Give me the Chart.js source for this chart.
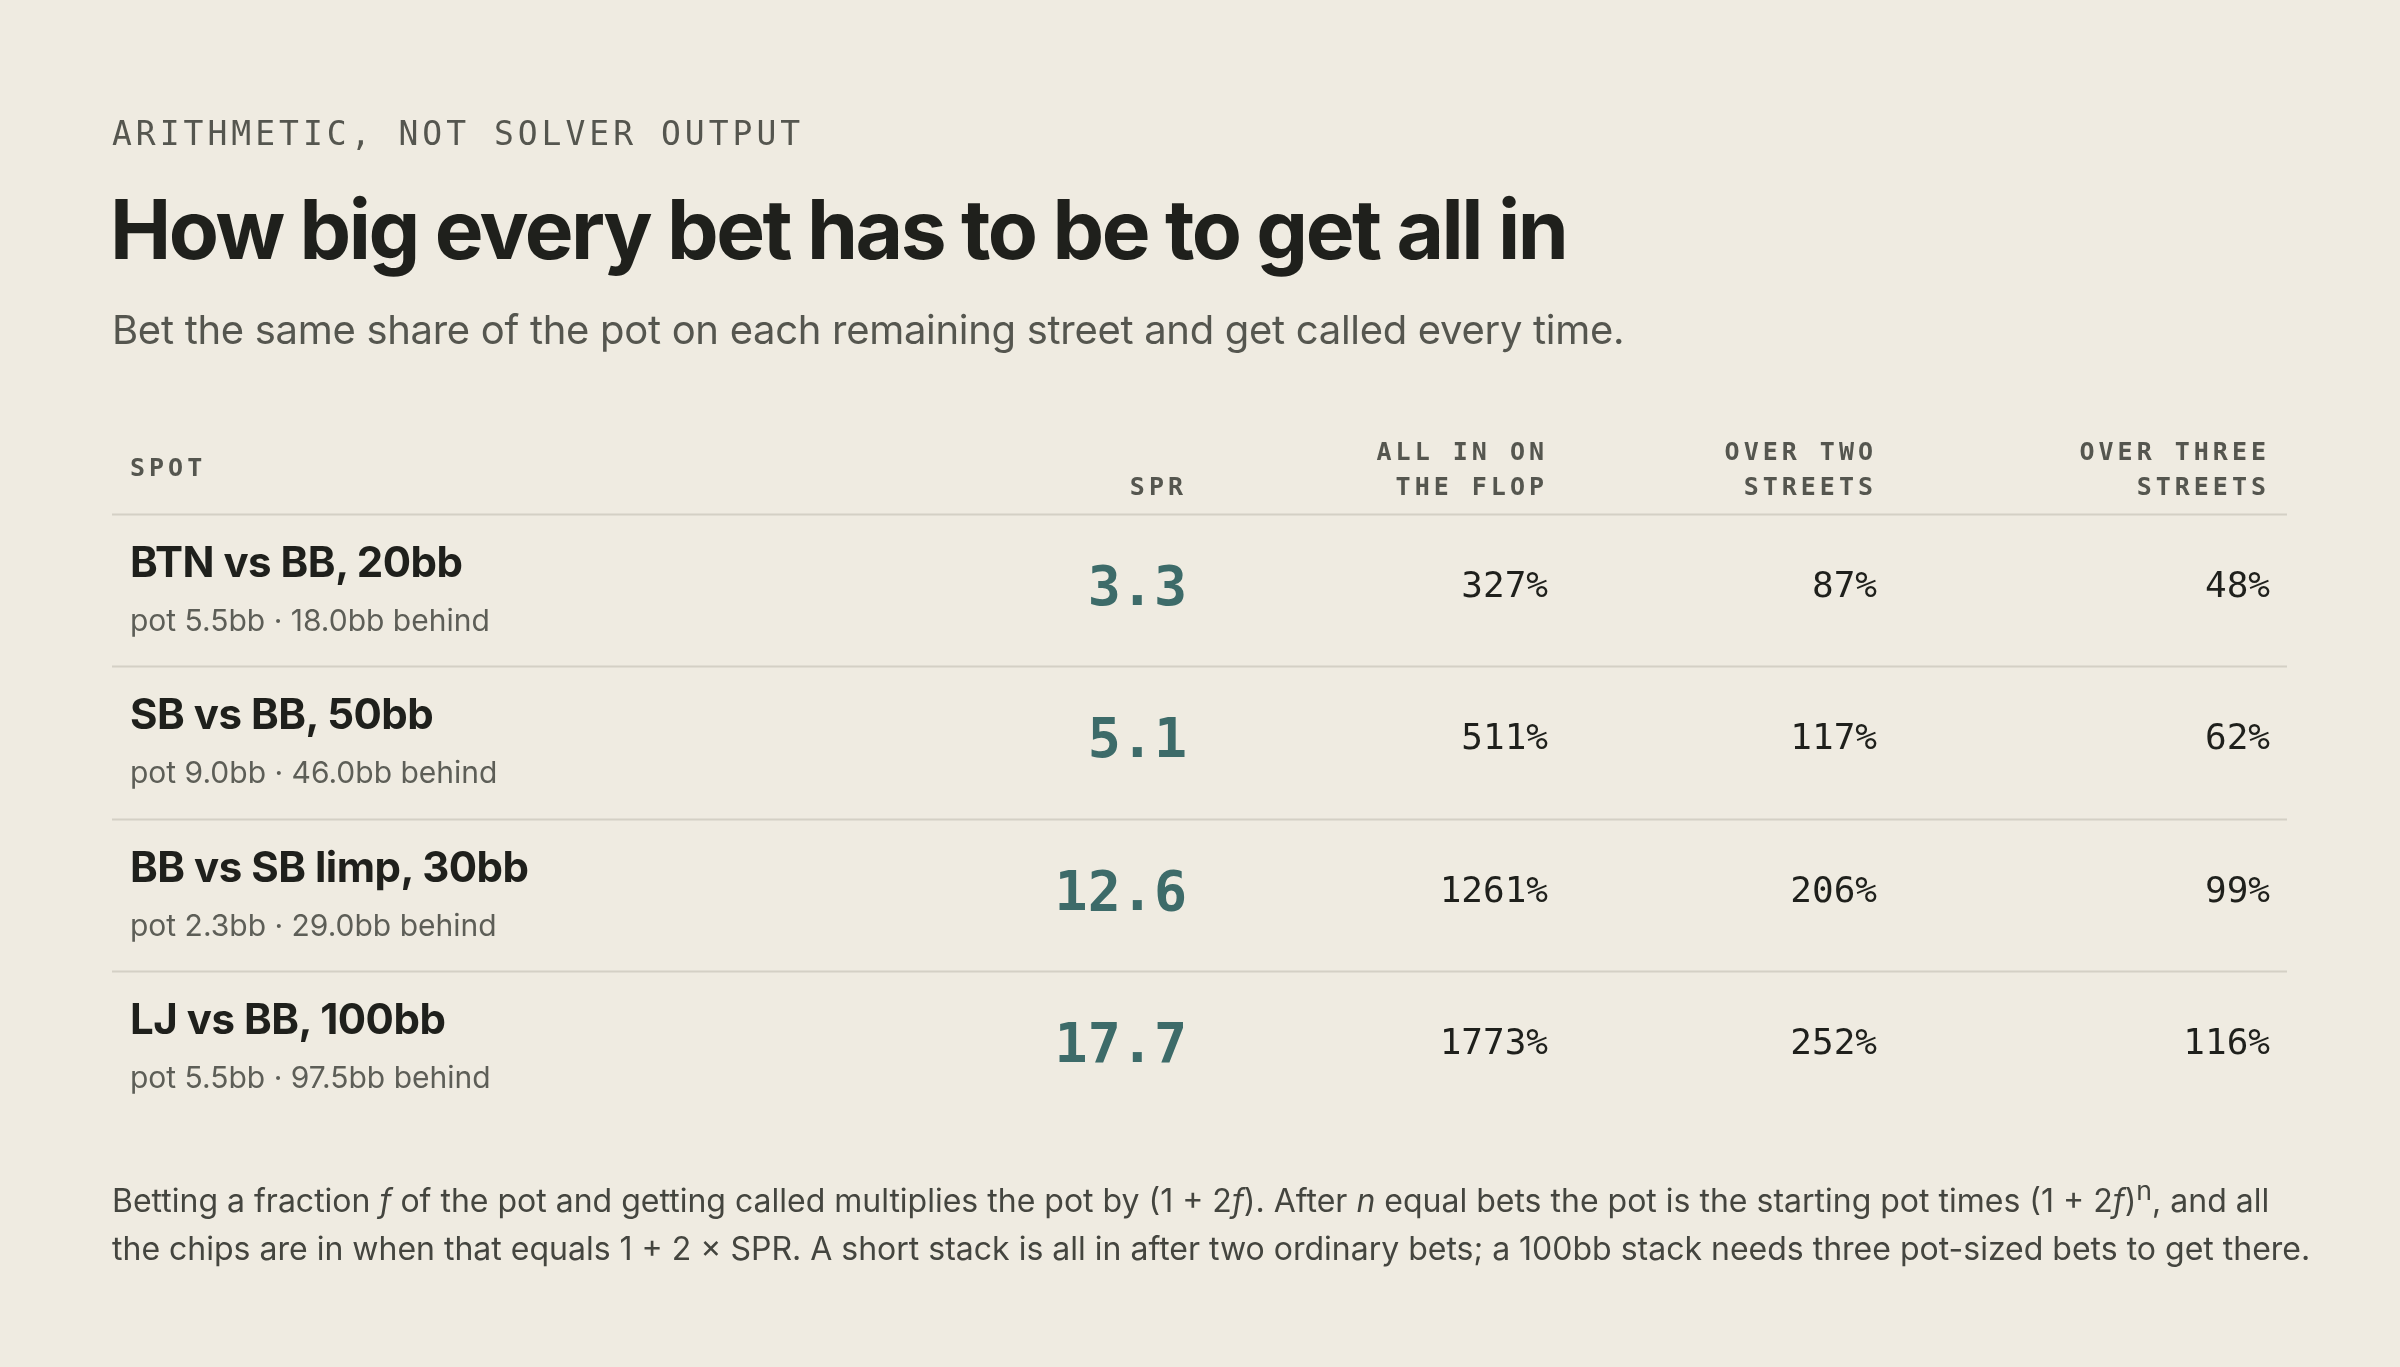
<!DOCTYPE html>
<html><head><meta charset="utf-8">
<script src="https://cdn.jsdelivr.net/npm/chart.js@4/dist/chart.umd.min.js"></script>
<style>
  html,body{margin:0;background:#efebe1;color:#23231f;font-family:Inter,"Noto Sans",sans-serif}
  #page{position:relative;width:2400px;height:1367px;overflow:hidden}
  #c{position:absolute;left:0;top:0}
  .abs{position:absolute;white-space:nowrap}
  .eyebrow{left:112px;top:114px;font:500 33px "DejaVu Sans Mono",monospace;letter-spacing:4px;color:#55564f}
  .title{left:110px;top:180px;font:700 82px Inter,sans-serif;letter-spacing:-2.5px;color:#1f201c}
  .sub{left:112px;top:305px;font:400 40px Inter,sans-serif;color:#55564f;letter-spacing:-0.3px}
  .foot{left:112px;top:1166px;font:400 32px/48px Inter,sans-serif;color:#44453f;white-space:normal;width:2200px}
  .hd{font:700 25px/35px "DejaVu Sans Mono",monospace;letter-spacing:4px;color:#55564f;text-align:right}
  .nm{font:700 42px Inter,sans-serif;color:#1f201c;letter-spacing:-0.5px}
  .ds{font:400 30px Inter,sans-serif;color:#5d5e57}
  .spr{font:700 55px "DejaVu Sans Mono",monospace;color:#3d6b69}
  .val{font:400 36px "DejaVu Sans Mono",monospace;color:#1f201c}
</style></head>
<body><div id="page">
<canvas id="c" width="2400" height="1367"></canvas>
<div class="abs eyebrow">ARITHMETIC, NOT SOLVER OUTPUT</div>
<div class="abs title">How big every bet has to be to get all in</div>
<div class="abs sub">Bet the same share of the pot on each remaining street and get called every time.</div>
<div id="cells"></div>
<div class="abs foot">Betting a fraction <i>f</i> of the pot and getting called multiplies the pot by (1 + 2<i>f</i>). After <i>n</i> equal bets the pot is the starting pot times (1 + 2<i>f</i>)<sup>n</sup>, and all the chips are in when that equals 1 + 2 × SPR. A short stack is all in after two ordinary bets; a 100bb stack needs three pot-sized bets to get there.</div>
</div>
<script>
const spots = ["BTN vs BB, 20bb", "SB vs BB, 50bb", "BB vs SB limp, 30bb", "LJ vs BB, 100bb"];
const details = ["pot 5.5bb · 18.0bb behind", "pot 9.0bb · 46.0bb behind", "pot 2.3bb · 29.0bb behind", "pot 5.5bb · 97.5bb behind"];
const spr = ["3.3", "5.1", "12.6", "17.7"];
const flop = ["327%", "511%", "1261%", "1773%"];
const twoStreets = ["87%", "117%", "206%", "252%"];
const threeStreets = ["48%", "62%", "99%", "116%"];
const headers = ["SPOT", "SPR", "ALL IN ON<br>THE FLOP", "OVER TWO<br>STREETS", "OVER THREE<br>STREETS"];

// right edges of numeric columns, in x-scale units (= px)
const colRight = [1187, 1548, 1877, 2270];
const tableLeft = 112, tableRight = 2287, textLeft = 130;

const tablePlugin = {
  id: "table",
  afterDraw(chart) {
    const { ctx } = chart;
    const x = chart.scales.x, y = chart.scales.y;
    const half = (y.getPixelForValue(1) - y.getPixelForValue(0)) / 2;
    const top = y.getPixelForValue(0) - half;
    ctx.save();
    ctx.strokeStyle = "#d4d0c5";
    ctx.lineWidth = 2;
    for (let i = 0; i < spots.length; i++) {
      const yy = Math.round(y.getPixelForValue(i) - half) + 0.5;
      ctx.beginPath();
      ctx.moveTo(x.getPixelForValue(tableLeft), yy);
      ctx.lineTo(x.getPixelForValue(tableRight), yy);
      ctx.stroke();
    }
    ctx.restore();

    let html = "";
    const hx = [textLeft].concat(colRight);
    headers.forEach((h, j) => {
      const px = x.getPixelForValue(hx[j]);
      const style = j === 0
        ? `left:${px}px;top:${top - 64}px;text-align:left`
        : `right:${2400 - px}px;bottom:${1367 - top + 10}px`;
      html += `<div class="abs hd" style="${style}">${h}</div>`;
    });
    spots.forEach((s, i) => {
      const cy = y.getPixelForValue(i);
      const lx = x.getPixelForValue(textLeft);
      html += `<div class="abs nm" style="left:${lx}px;top:${cy - 54}px">${s}</div>`;
      html += `<div class="abs ds" style="left:${lx}px;top:${cy + 12}px">${details[i]}</div>`;
      const vals = [spr[i], flop[i], twoStreets[i], threeStreets[i]];
      vals.forEach((v, j) => {
        const r = 2400 - x.getPixelForValue(colRight[j]);
        const cls = j === 0 ? "spr" : "val";
        const off = j === 0 ? 36 : 26;
        html += `<div class="abs ${cls}" style="right:${r}px;top:${cy - off}px">${v}</div>`;
      });
    });
    document.getElementById("cells").innerHTML = html;
  }
};

new Chart(document.getElementById("c"), {
  type: "scatter",
  data: { labels: spots, datasets: [{ data: [] }] },
  options: {
    responsive: false,
    animation: false,
    devicePixelRatio: 1,
    layout: { padding: { top: 514, bottom: 244, left: 0, right: 0 } },
    plugins: { legend: { display: false }, tooltip: { enabled: false } },
    scales: {
      x: { type: "linear", min: 0, max: 2400, display: false },
      y: { type: "category", labels: spots, offset: true, display: false }
    }
  },
  plugins: [tablePlugin]
});
</script>
</body></html>
